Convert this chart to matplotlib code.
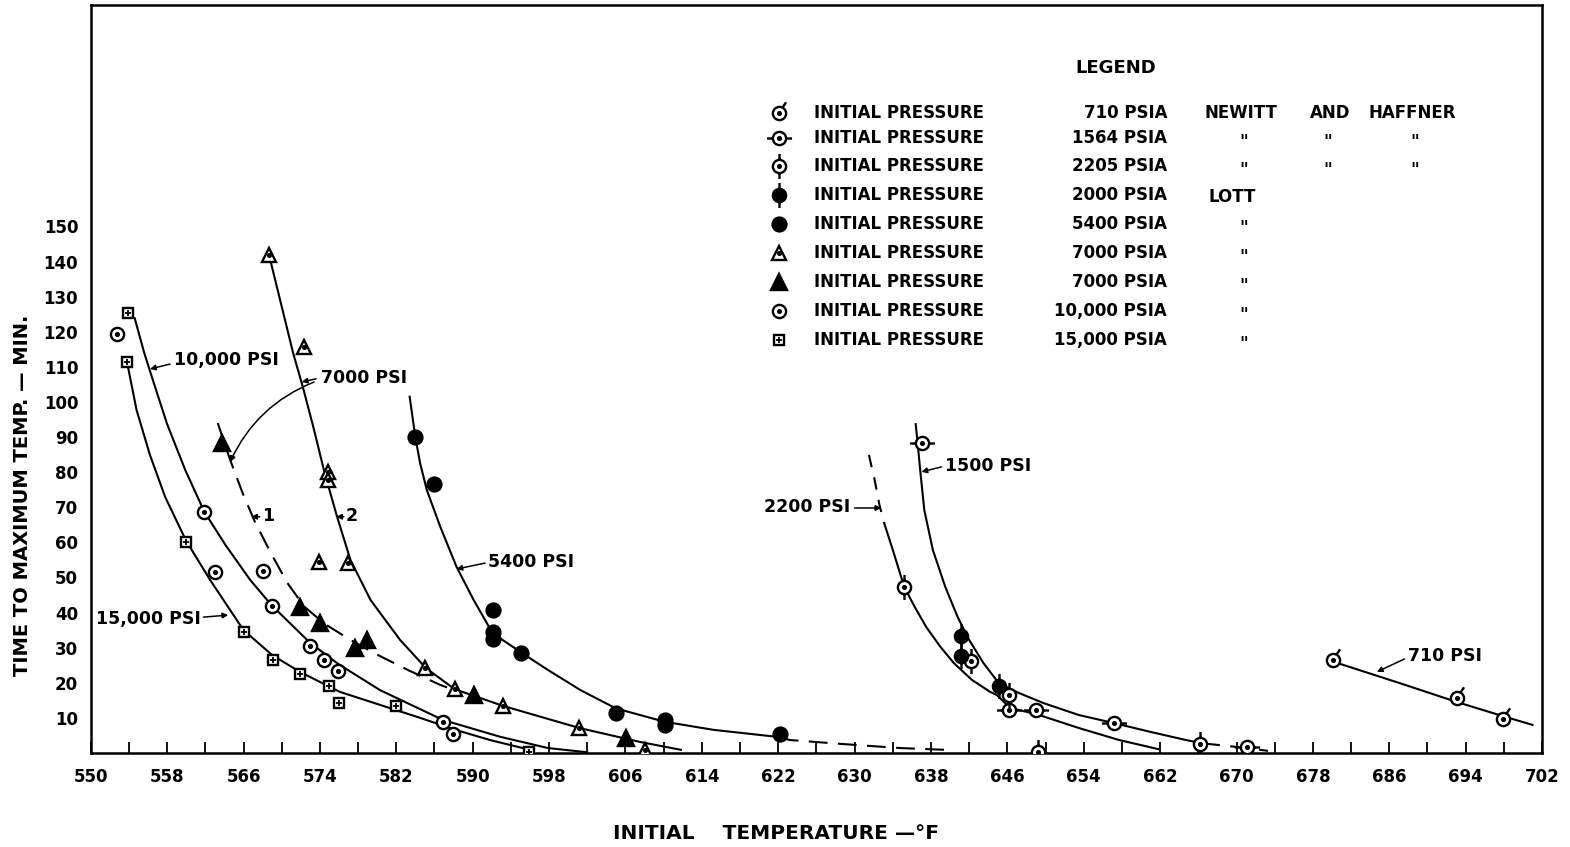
import numpy as np
import matplotlib
matplotlib.use("Agg")
import matplotlib.pyplot as plt
from matplotlib.path import Path

plt.rcParams['font.family'] = ['DejaVu Sans']
plt.rcParams['font.weight'] = 'bold'
plt.rcParams['axes.labelweight'] = 'bold'
FS = 12

# ---------- measured points (initial temperature F, minutes) ----------
p710_T = [680.1, 693.1, 697.9]
p710_y = [26.5, 15.6, 9.7]
p1564_T = [637.1, 646.2, 649.0, 657.2, 671.1]
p1564_y = [88.4, 12.3, 12.3, 8.6, 1.6]
p2205_T = [635.2, 642.2, 646.2, 649.2, 666.2]
p2205_y = [47.3, 26.2, 16.5, 0.4, 2.6]
p2000_T = [641.1, 641.1, 645.1]
p2000_y = [33.3, 27.7, 19.1]
p5400_T = [584.0, 586.0, 592.1, 592.1, 592.1, 595.1, 605.0, 610.1, 610.1, 622.2]
p5400_y = [89.9, 76.6, 40.7, 34.4, 32.5, 28.6, 11.3, 9.4, 8.0, 5.3]
p7000o_T = [568.7, 572.3, 574.8, 574.9, 573.9, 576.9, 585.0, 588.1, 593.2, 601.1, 608.0]
p7000o_y = [141.9, 115.7, 80.1, 77.8, 54.5, 54.0, 24.1, 18.1, 13.5, 7.0, 0.9]
p7000f_T = [563.7, 571.9, 574.0, 578.9, 577.7, 590.1, 606.1]
p7000f_y = [88.2, 41.7, 37.0, 32.2, 29.8, 16.5, 4.2]
p10k_T = [552.8, 561.9, 563.0, 568.0, 569.0, 573.0, 574.4, 575.9, 586.9, 587.9]
p10k_y = [119.5, 68.7, 51.7, 51.9, 41.8, 30.5, 26.5, 23.4, 8.9, 5.3]
p15k_T = [553.9, 553.8, 560.0, 566.0, 569.1, 571.9, 575.0, 576.0, 582.0, 595.9]
p15k_y = [125.4, 111.5, 60.2, 34.4, 26.5, 22.4, 19.1, 14.3, 13.5, 0.3]

# ---------- hand drawn curves ----------
c15k_T = [553.9, 554.8, 556.2, 557.8, 560.0, 562.5, 566.0, 569.0, 571.9, 576.1, 580.3, 584.5, 588.2, 591.8, 596.0]
c15k_y = [110.0, 97.7, 84.9, 72.9, 60.4, 49.3, 35.0, 27.9, 23.1, 17.4, 13.7, 10.0, 6.6, 3.7, 0.9]
c10k_T = [554.6, 555.6, 556.7, 558.0, 559.9, 561.9, 564.1, 566.7, 568.9, 573.0, 575.9, 580.3, 586.9, 592.9, 597.9, 602.0]
c10k_y = [123.9, 114.0, 104.6, 93.7, 80.6, 68.7, 59.3, 49.3, 42.2, 31.3, 25.4, 17.9, 9.4, 4.6, 1.4, 0.2]
c7000a_T = [563.3, 564.6, 565.9, 567.2, 568.8, 570.6, 572.4, 574.5, 577.2, 580.3, 583.4, 586.6, 588.9]
c7000a_y = [94.0, 83.5, 74.1, 65.8, 57.3, 48.4, 41.6, 36.8, 32.2, 27.6, 23.4, 19.4, 17.1]
c7000b_T = [568.8, 570.0, 571.2, 572.2, 573.3, 574.5, 575.8, 577.2, 579.3, 582.4, 585.1, 588.1, 593.2, 601.2, 607.6, 611.8]
c7000b_y = [140.5, 127.2, 113.9, 104.4, 93.0, 79.7, 67.3, 55.0, 43.6, 32.2, 24.2, 18.2, 13.4, 7.1, 3.1, 0.9]
c5400_T = [583.4, 584.0, 584.5, 585.2, 586.6, 588.3, 590.1, 592.1, 595.1, 597.8, 601.3, 605.0, 610.1, 615.2, 622.2]
c5400_y = [101.5, 89.9, 82.5, 74.9, 64.5, 53.1, 43.6, 34.1, 28.6, 23.8, 17.9, 12.7, 8.9, 6.6, 4.5]
c5400x_T = [622.2, 623.2, 628.5, 634.8, 639.5]
c5400x_y = [4.5, 3.7, 2.6, 1.4, 0.9]
c2200x_T = [631.5, 632.1, 632.6, 633.1]
c2200x_y = [84.9, 77.8, 70.7, 65.5]
c2200_T = [633.1, 634.1, 635.2, 636.3, 637.5, 639.0, 640.4, 642.3, 644.2, 644.9, 646.3, 649.0, 653.5, 657.7, 661.8]
c2200_y = [65.5, 57.0, 47.3, 41.6, 35.9, 30.2, 25.6, 20.8, 17.4, 16.5, 12.8, 11.1, 7.1, 3.7, 1.1]
c1500_T = [636.4, 636.6, 636.9, 637.3, 638.2, 639.5, 640.8, 642.0, 643.5, 645.1, 647.2, 649.8, 653.5, 657.2, 661.0, 664.7, 666.3]
c1500_y = [93.7, 88.3, 79.8, 69.2, 57.8, 47.3, 38.7, 32.2, 25.6, 19.9, 17.1, 14.2, 10.8, 8.5, 6.0, 3.7, 2.8]
c1500x_T = [666.3, 671.1, 673.3]
c1500x_y = [2.8, 1.4, 0.6]
c710_T = [680.6, 687.1, 693.1, 697.9, 701.0]
c710_y = [25.6, 19.9, 14.5, 10.5, 8.0]

# ---------- legend ----------
leg_kinds = ['710', '1564', '2205', '2000', '5400', '7000o', '7000f', '10000', '15000']
leg_press = ['710 PSIA', '1564 PSIA', '2205 PSIA', '2000 PSIA', '5400 PSIA',
             '7000 PSIA', '7000 PSIA', '10,000 PSIA', '15,000 PSIA']
leg_rows_px = [113, 138, 166, 195, 224, 253, 282, 311, 340]

fig = plt.figure(figsize=(15.7, 8.47), dpi=100)
ax = fig.add_axes([0.0578, 0.111, 0.9244, 0.8831])
ax.set_xlim(550, 702)
ax.set_ylim(0, 213.1)

def ring_path(segs):
    c = Path.unit_circle()
    v = [c.vertices]
    k = [c.codes]
    for a, b in segs:
        v.append(np.array([a, b], float))
        k.append(np.array([Path.MOVETO, Path.LINETO]))
    v = np.concatenate(v)
    return Path(v, np.concatenate(k)), np.abs(v).max()

TICK, r_t = ring_path([((0.45, 0.9), (1.0, 1.7))])
HBAR, r_h = ring_path([((-1.9, 0), (-1, 0)), ((1, 0), (1.9, 0))])
VBAR, r_v = ring_path([((0, 1), (0, 1.9)), ((0, -1), (0, -1.9))])


def sym(kind, x, y, ms=9.5, **kw):
    kw.setdefault('zorder', 4)
    base = dict(ls='none', mec='k', mew=1.7)
    dot = False
    if kind == '710':
        ax.plot(x, y, marker=TICK, ms=ms * r_t, mfc='w', **base, **kw)
        dot = True
    elif kind == '1564':
        ax.plot(x, y, marker=HBAR, ms=ms * r_h, mfc='w', **base, **kw)
        dot = True
    elif kind == '2205':
        ax.plot(x, y, marker=VBAR, ms=ms * r_v, mfc='w', **base, **kw)
        dot = True
    elif kind == '2000':
        ax.plot(x, y, marker=VBAR, ms=ms * r_v, mfc='k', **base, **kw)
    elif kind == '5400':
        ax.plot(x, y, marker='o', ms=ms * 1.05, mfc='k', **base, **kw)
    elif kind == '7000o':
        ax.plot(x, y, marker='^', ms=ms * 1.1, mfc='w', **base, **kw)
        dot = True
    elif kind == '7000f':
        ax.plot(x, y, marker='^', ms=ms * 1.15, mfc='k', **base, **kw)
    elif kind == '10000':
        ax.plot(x, y, marker='o', ms=ms, mfc='w', **base, **kw)
        dot = True
    elif kind == '15000':
        ax.plot(x, y, marker='s', ms=ms * 0.8, mfc='w', **base, **kw)
        ax.plot(x, y, marker='+', ms=ms * 0.45, mec='k', mew=1.3, ls='none', **kw)
    if dot:
        ax.plot(x, y, marker='o', ms=ms * 0.28, mfc='k', mec='k', ls='none', **kw)


# curves
sol = dict(color='k', lw=1.5, zorder=2)
dsh = dict(color='k', lw=1.5, zorder=2, dashes=(9, 5))
ax.plot(c15k_T, c15k_y, **sol)
ax.plot(c10k_T, c10k_y, **sol)
ax.plot(c7000a_T, c7000a_y, **dsh)
ax.plot(c7000b_T, c7000b_y, **sol)
ax.plot(c5400_T, c5400_y, **sol)
ax.plot(c5400x_T, c5400x_y, **dsh)
ax.plot(c2200x_T, c2200x_y, color='k', lw=1.5, zorder=2, dashes=(6, 5))
ax.plot(c2200_T, c2200_y, **sol)
ax.plot(c1500_T, c1500_y, **sol)
ax.plot(c1500x_T, c1500x_y, **dsh)
ax.plot(c710_T, c710_y, **sol)

# points
sym('710', p710_T, p710_y)
sym('1564', p1564_T, p1564_y)
sym('2205', p2205_T, p2205_y)
sym('2000', p2000_T, p2000_y)
sym('5400', p5400_T, p5400_y)
sym('7000o', p7000o_T, p7000o_y)
sym('7000f', p7000f_T, p7000f_y)
sym('10000', p10k_T, p10k_y)
sym('15000', p15k_T, p15k_y)

# curve labels
LFS = 12.5
arw = dict(arrowstyle='-|>', color='k', lw=1.1, mutation_scale=8, shrinkA=0, shrinkB=0)
def lab(txt, x, y, ha='left'):
    ax.text(x, y, txt, ha=ha, va='center', fontsize=LFS, zorder=5)
def arrow(x0, y0, x1, y1, rad=0.0):
    ax.annotate('', xy=(x1, y1), xytext=(x0, y0),
                arrowprops=dict(arw, connectionstyle='arc3,rad=%s' % rad))

lab('10,000 PSI', 558.7, 112.0)
arrow(558.3, 110.8, 556.2, 109.4)
lab('15,000 PSI', 550.5, 38.2)
arrow(561.8, 38.7, 564.4, 39.3)
lab('7000 PSI', 574.1, 106.8)
arrow(573.6, 106.6, 572.1, 105.7)
arrow(573.4, 105.7, 564.6, 82.9, rad=0.2)
lab('1', 567.9, 67.5)
arrow(567.7, 67.3, 566.8, 67.3)
lab('2', 576.7, 67.5)
arrow(576.5, 67.3, 575.7, 67.3)
lab('5400 PSI', 591.6, 54.4)
arrow(591.3, 54.1, 588.3, 52.4)
lab('2200 PSI', 629.5, 70.1, ha='right')
arrow(630.0, 69.8, 632.8, 69.8)
lab('1500 PSI', 639.5, 81.8)
arrow(639.1, 81.5, 637.0, 80.1)
lab('710 PSI', 688.0, 27.6)
arrow(687.6, 26.8, 684.7, 23.1)

# axes styling
ax.set_xticks(np.arange(550, 703, 8))
ax.set_xticks(np.arange(554, 703, 8), minor=True)
ax.set_yticks(np.arange(10, 151, 10))
ax.set_yticks([150], minor=True)
ax.tick_params(axis='x', which='both', direction='in', length=8, width=1.3, pad=11, labelsize=FS)
ax.tick_params(axis='y', which='major', length=0, pad=9, labelsize=FS)
ax.tick_params(axis='y', which='minor', direction='in', length=6, width=1.3)
for s in ax.spines.values():
    s.set_linewidth(1.8)

ax.set_xlabel('INITIAL    TEMPERATURE \u2014\u00b0F', fontsize=14.5, va='center')
ax.xaxis.set_label_coords(0.472, -0.107)
ax.set_ylabel('TIME TO MAXIMUM TEMP. \u2014 MIN.', fontsize=14, va='center')
ax.yaxis.set_label_coords(-0.0473, 0.345)

# legend block
def fx(x):
    return x / 1570.0
def fy(y):
    return 1 - y / 847.0

fig.text(fx(1116), fy(68), 'LEGEND', ha='center', va='center', fontsize=13)
for i, (k, pr, yp) in enumerate(zip(leg_kinds, leg_press, leg_rows_px)):
    sym(k, [fx(779)], [fy(yp)], transform=fig.transFigure, clip_on=False)
    fig.text(fx(814), fy(yp), 'INITIAL PRESSURE', ha='left', va='center', fontsize=FS)
    fig.text(fx(1167), fy(yp), pr, ha='right', va='center', fontsize=FS)
    if i == 0:
        for w, xp in zip(['NEWITT', 'AND', 'HAFFNER'], [1205, 1310, 1369]):
            fig.text(fx(xp), fy(yp), w, ha='left', va='center', fontsize=FS)
    elif i in (1, 2):
        for xp in [1244, 1328, 1415]:
            fig.text(fx(xp), fy(yp + 4), '"', ha='center', va='center', fontsize=FS)
    elif i == 3:
        fig.text(fx(1208), fy(yp + 2), 'LOTT', ha='left', va='center', fontsize=FS)
    else:
        fig.text(fx(1244), fy(yp + 4), '"', ha='center', va='center', fontsize=FS)

fig.savefig('out.png', dpi=100)
